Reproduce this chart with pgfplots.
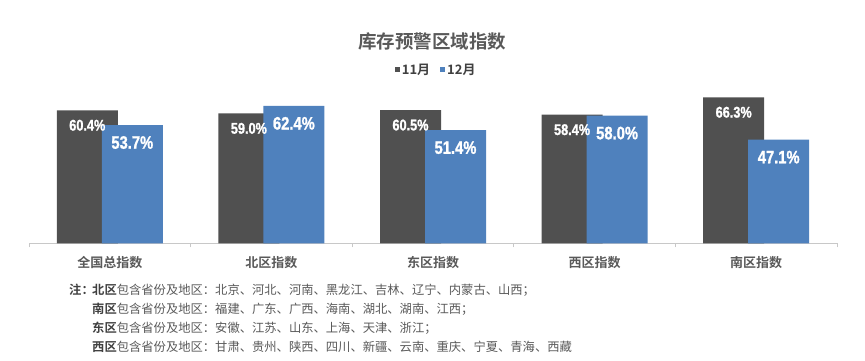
\documentclass[border=0pt]{standalone}
\usepackage{pgfplots}
\pgfplotsset{compat=1.18}
\usepackage{fontspec}
\setmainfont{Noto Sans CJK SC}[BoldFont={Noto Sans CJK SC Bold}]
\newfontfamily\numfont{Liberation Sans}[FakeStretch=0.82, BoldFeatures={FakeBold=1.2}]
\definecolor{darkbar}{RGB}{80,80,80}
\definecolor{bluebar}{RGB}{79,129,189}
\definecolor{txt}{RGB}{89,89,89}
\definecolor{txtdark}{RGB}{64,64,64}
\definecolor{axisgray}{RGB}{200,200,200}
\begin{document}
\begin{tikzpicture}[x=1pt,y=1pt]
\useasboundingbox (0,0) rectangle (865,361);
\begin{axis}[
  at={(29pt,117.5pt)}, anchor=south west,
  scale only axis, width=808pt, height=154.4pt,
  xmin=-0.5, xmax=4.5, ymin=0, ymax=70,
  axis y line=none, axis x line=bottom,
  x axis line style={-, color=axisgray, line width=1.5pt},
  ybar, bar width=61pt,
  xtick={0,1,2,3,4},
  xticklabels={全国总指数,北区指数,东区指数,西区指数,南区指数},
  major tick length=0pt,
  xticklabel style={anchor=base, yshift=-24.5pt, font=\bfseries\fontsize{13}{13}\selectfont, text=txt},
  extra x ticks={-0.5,0.5,1.5,2.5,3.5,4.5},
  extra x tick labels={},
  extra x tick style={major tick length=4pt, tick align=outside, tick style={color=axisgray, line width=1pt}},
  point meta=explicit symbolic,
  nodes near coords,
  legend style={at={(0.504,1.124)}, anchor=center, draw=none, fill=none, legend columns=2,
    font=\bfseries\fontsize{13}{13}\selectfont, text=txtdark,
    /tikz/every even column/.append style={column sep=8pt}},
  legend image code/.code={\fill[#1, draw=none] (0pt,-2.5pt) rectangle (5pt,2.5pt);},
  clip=false,
]
\addplot[fill=darkbar, draw=none, bar shift=-22.5pt,
  nodes near coords style={font=\numfont\bfseries\fontsize{15.5}{15.5}\selectfont, text=white, anchor=center, yshift=-15pt}]
  coordinates {(0,60.4)[60.4\%] (1,59.0)[59.0\%] (2,60.5)[60.5\%] (3,58.4)[58.4\%] (4,66.3)[66.3\%]};
\addlegendentry{11月}
\addplot[fill=bluebar, draw=none, bar shift=22.5pt,
  nodes near coords style={font=\numfont\bfseries\fontsize{18}{18}\selectfont, text=white, anchor=center, yshift=-17.5pt}]
  coordinates {(0,53.7)[53.7\%] (1,62.4)[62.4\%] (2,51.4)[51.4\%] (3,58.0)[58.0\%] (4,47.1)[47.1\%]};
\addlegendentry{12月}
\end{axis}
\node[font=\bfseries\fontsize{18.5}{18.5}\selectfont, text=txt] at (432,320) {库存预警区域指数};
\begin{scope}[every node/.style={anchor=base west, inner sep=0pt, font=\fontsize{12.3}{12.3}\selectfont, text=txt}]
\node at (69,66.5) {\textbf{\textcolor{txtdark}{注：}}};
\node at (92,66.5) {\textbf{\textcolor{txtdark}{北区}}包含省份及地区：北京、河北、河南、黑龙江、吉林、辽宁、内蒙古、山西；};
\node at (92,47.5) {\textbf{\textcolor{txtdark}{南区}}包含省份及地区：福建、广东、广西、海南、湖北、湖南、江西；};
\node at (92,28.5) {\textbf{\textcolor{txtdark}{东区}}包含省份及地区：安徽、江苏、山东、上海、天津、浙江；};
\node at (92,9.5) {\textbf{\textcolor{txtdark}{西区}}包含省份及地区：甘肃、贵州、陕西、四川、新疆、云南、重庆、宁夏、青海、西藏};
\end{scope}
\end{tikzpicture}
\end{document}
